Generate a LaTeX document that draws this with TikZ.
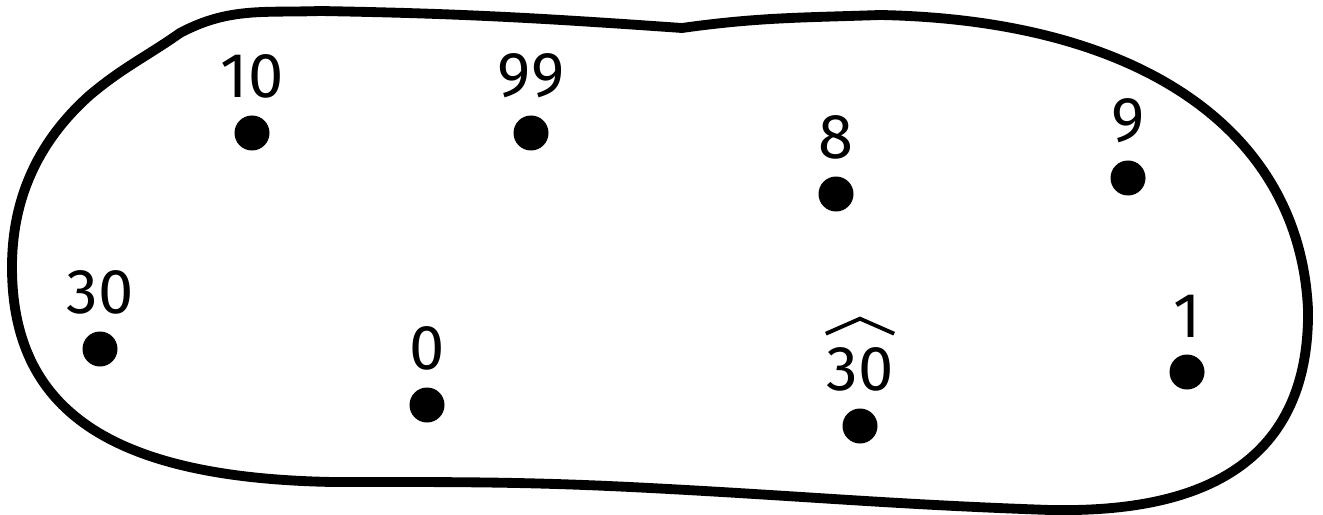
\documentclass[tikz,border=0pt]{standalone}
\usepackage{fontspec}
\setmainfont{Fira Sans}
\usetikzlibrary{positioning}
\begin{document}
\begin{tikzpicture}[
    mydot/.style={circle, fill=black, inner sep=0pt, minimum size=0.35cm},
    mynum/.style={inner sep=0pt, font=\fontsize{18}{20}\selectfont},
    myblob/.style={line width=2.8pt, line join=round},
    myhat/.style={line width=1.1pt}
]
    \useasboundingbox (0,0) rectangle (13.23,-5.14);

    % Outline of the set
    \draw[myblob] (1.80,-0.33) to[out=28,in=182] (3.2,-0.11)
        to[out=-1,in=176] (6.82,-0.28) to[out=8,in=182] (8.8,-0.15)
        .. controls (11.4,-0.2) and (13.0,-1.3) .. (13.08,-3.1)
        .. controls (13.1,-4.9) and (11.6,-5.12) .. (10.5,-5.10)
        to[out=178,in=-3] (6.5,-4.88) to[out=177,in=0] (3.33,-4.82)
        .. controls (1.1,-4.78) and (0.12,-4.1) .. (0.12,-2.67)
        .. controls (0.12,-1.9) and (0.45,-1.35) .. (0.9,-0.95)
        to[out=40,in=-145] cycle;

    % Elements
    \node[mydot] (d10) at (2.52,-1.33) {};
    \node[mydot] (d99) at (5.31,-1.33) {};
    \node[mydot] (d8) at (8.36,-1.94) {};
    \node[mydot] (d9) at (11.28,-1.78) {};
    \node[mydot] (d30) at (1.00,-3.49) {};
    \node[mydot] (d0) at (4.27,-4.05) {};
    \node[mydot] (dh30) at (8.60,-4.26) {};
    \node[mydot] (d1) at (11.87,-3.72) {};

    % Labels
    \node[mynum, above=0.16cm of d10] (l10) {10};
    \node[mynum, above=0.16cm of d99] (l99) {99};
    \node[mynum, above=0.16cm of d8] (l8) {8};
    \node[mynum, above=0.16cm of d9] (l9) {9};
    \node[mynum, above=0.16cm of d30] (l30) {30};
    \node[mynum, above=0.16cm of d0] (l0) {0};
    \node[mynum, above=0.16cm of dh30] (lh30) {30};
    \node[mynum, above=0.16cm of d1] (l1) {1};

    % Hat over 30
    \draw[myhat] ([yshift=0.13cm]lh30.north west) -- ([yshift=0.28cm]lh30.north)
        -- ([yshift=0.13cm]lh30.north east);
\end{tikzpicture}
\end{document}
